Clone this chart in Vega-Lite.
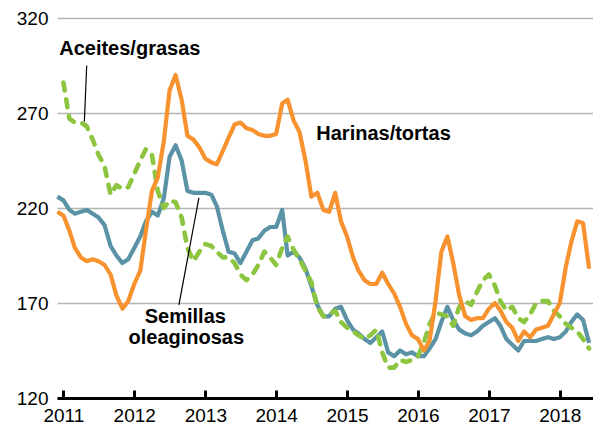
{
  "$schema": "https://vega.github.io/schema/vega-lite/v6.json",
  "width": 536,
  "height": 380,
  "autosize": "none",
  "padding": {"left": 57, "top": 18, "right": 0, "bottom": 27},
  "background": "white",
  "config": {"view": {"stroke": null}, "font": "Liberation Sans"},
  "datasets": {
    "harinas": [
      {"fecha":"2010-12-01","valor":218},
      {"fecha":"2011-01-01","valor":216},{"fecha":"2011-02-01","valor":208},{"fecha":"2011-03-01","valor":199},{"fecha":"2011-04-01","valor":194},{"fecha":"2011-05-01","valor":192},{"fecha":"2011-06-01","valor":193},{"fecha":"2011-07-01","valor":192},{"fecha":"2011-08-01","valor":190},{"fecha":"2011-09-01","valor":185},{"fecha":"2011-10-01","valor":174},{"fecha":"2011-11-01","valor":167},{"fecha":"2011-12-01","valor":171},
      {"fecha":"2012-01-01","valor":180},{"fecha":"2012-02-01","valor":187},{"fecha":"2012-03-01","valor":208},{"fecha":"2012-04-01","valor":229},{"fecha":"2012-05-01","valor":236},{"fecha":"2012-06-01","valor":255},{"fecha":"2012-07-01","valor":282},{"fecha":"2012-08-01","valor":290},{"fecha":"2012-09-01","valor":277},{"fecha":"2012-10-01","valor":258},{"fecha":"2012-11-01","valor":256},{"fecha":"2012-12-01","valor":252},
      {"fecha":"2013-01-01","valor":246},{"fecha":"2013-02-01","valor":244},{"fecha":"2013-03-01","valor":243},{"fecha":"2013-04-01","valor":250},{"fecha":"2013-05-01","valor":257},{"fecha":"2013-06-01","valor":264},{"fecha":"2013-07-01","valor":265},{"fecha":"2013-08-01","valor":262},{"fecha":"2013-09-01","valor":261},{"fecha":"2013-10-01","valor":259},{"fecha":"2013-11-01","valor":258},{"fecha":"2013-12-01","valor":258},
      {"fecha":"2014-01-01","valor":259},{"fecha":"2014-02-01","valor":275},{"fecha":"2014-03-01","valor":277},{"fecha":"2014-04-01","valor":266},{"fecha":"2014-05-01","valor":260},{"fecha":"2014-06-01","valor":245},{"fecha":"2014-07-01","valor":226},{"fecha":"2014-08-01","valor":228},{"fecha":"2014-09-01","valor":219},{"fecha":"2014-10-01","valor":218},{"fecha":"2014-11-01","valor":228},{"fecha":"2014-12-01","valor":213},
      {"fecha":"2015-01-01","valor":205},{"fecha":"2015-02-01","valor":194},{"fecha":"2015-03-01","valor":187},{"fecha":"2015-04-01","valor":182},{"fecha":"2015-05-01","valor":180},{"fecha":"2015-06-01","valor":180},{"fecha":"2015-07-01","valor":186},{"fecha":"2015-08-01","valor":180},{"fecha":"2015-09-01","valor":175},{"fecha":"2015-10-01","valor":168},{"fecha":"2015-11-01","valor":159},{"fecha":"2015-12-01","valor":153},
      {"fecha":"2016-01-01","valor":151},{"fecha":"2016-02-01","valor":145},{"fecha":"2016-03-01","valor":150},{"fecha":"2016-04-01","valor":171},{"fecha":"2016-05-01","valor":197},{"fecha":"2016-06-01","valor":205},{"fecha":"2016-07-01","valor":191},{"fecha":"2016-08-01","valor":174},{"fecha":"2016-09-01","valor":163},{"fecha":"2016-10-01","valor":161},{"fecha":"2016-11-01","valor":162},{"fecha":"2016-12-01","valor":162},
      {"fecha":"2017-01-01","valor":167},{"fecha":"2017-02-01","valor":170},{"fecha":"2017-03-01","valor":166},{"fecha":"2017-04-01","valor":160},{"fecha":"2017-05-01","valor":157},{"fecha":"2017-06-01","valor":150},{"fecha":"2017-07-01","valor":155},{"fecha":"2017-08-01","valor":152},{"fecha":"2017-09-01","valor":156},{"fecha":"2017-10-01","valor":157},{"fecha":"2017-11-01","valor":158},{"fecha":"2017-12-01","valor":164},
      {"fecha":"2018-01-01","valor":170},{"fecha":"2018-02-01","valor":189},{"fecha":"2018-03-01","valor":202},{"fecha":"2018-04-01","valor":213},{"fecha":"2018-05-01","valor":212},{"fecha":"2018-06-01","valor":188}
    ],
    "semillas": [
      {"fecha":"2010-12-01","valor":226},
      {"fecha":"2011-01-01","valor":224},{"fecha":"2011-02-01","valor":219},{"fecha":"2011-03-01","valor":217},{"fecha":"2011-04-01","valor":218},{"fecha":"2011-05-01","valor":219},{"fecha":"2011-06-01","valor":217},{"fecha":"2011-07-01","valor":215},{"fecha":"2011-08-01","valor":211},{"fecha":"2011-09-01","valor":200},{"fecha":"2011-10-01","valor":195},{"fecha":"2011-11-01","valor":191},{"fecha":"2011-12-01","valor":193},
      {"fecha":"2012-01-01","valor":199},{"fecha":"2012-02-01","valor":205},{"fecha":"2012-03-01","valor":213},{"fecha":"2012-04-01","valor":218},{"fecha":"2012-05-01","valor":216},{"fecha":"2012-06-01","valor":225},{"fecha":"2012-07-01","valor":247},{"fecha":"2012-08-01","valor":253},{"fecha":"2012-09-01","valor":245},{"fecha":"2012-10-01","valor":229},{"fecha":"2012-11-01","valor":228},{"fecha":"2012-12-01","valor":228},
      {"fecha":"2013-01-01","valor":228},{"fecha":"2013-02-01","valor":227},{"fecha":"2013-03-01","valor":221},{"fecha":"2013-04-01","valor":208},{"fecha":"2013-05-01","valor":197},{"fecha":"2013-06-01","valor":196},{"fecha":"2013-07-01","valor":191},{"fecha":"2013-08-01","valor":197},{"fecha":"2013-09-01","valor":203},{"fecha":"2013-10-01","valor":204},{"fecha":"2013-11-01","valor":208},{"fecha":"2013-12-01","valor":210},
      {"fecha":"2014-01-01","valor":210},{"fecha":"2014-02-01","valor":219},{"fecha":"2014-03-01","valor":195},{"fecha":"2014-04-01","valor":197},{"fecha":"2014-05-01","valor":194},{"fecha":"2014-06-01","valor":188},{"fecha":"2014-07-01","valor":179},{"fecha":"2014-08-01","valor":169},{"fecha":"2014-09-01","valor":163},{"fecha":"2014-10-01","valor":163},{"fecha":"2014-11-01","valor":167},{"fecha":"2014-12-01","valor":168},
      {"fecha":"2015-01-01","valor":161},{"fecha":"2015-02-01","valor":156},{"fecha":"2015-03-01","valor":154},{"fecha":"2015-04-01","valor":151},{"fecha":"2015-05-01","valor":149},{"fecha":"2015-06-01","valor":152},{"fecha":"2015-07-01","valor":155},{"fecha":"2015-08-01","valor":144},{"fecha":"2015-09-01","valor":142},{"fecha":"2015-10-01","valor":145},{"fecha":"2015-11-01","valor":143},{"fecha":"2015-12-01","valor":144},
      {"fecha":"2016-01-01","valor":142},{"fecha":"2016-02-01","valor":142},{"fecha":"2016-03-01","valor":146},{"fecha":"2016-04-01","valor":151},{"fecha":"2016-05-01","valor":160},{"fecha":"2016-06-01","valor":168},{"fecha":"2016-07-01","valor":161},{"fecha":"2016-08-01","valor":156},{"fecha":"2016-09-01","valor":154},{"fecha":"2016-10-01","valor":153},{"fecha":"2016-11-01","valor":155},{"fecha":"2016-12-01","valor":158},
      {"fecha":"2017-01-01","valor":160},{"fecha":"2017-02-01","valor":162},{"fecha":"2017-03-01","valor":158},{"fecha":"2017-04-01","valor":151},{"fecha":"2017-05-01","valor":148},{"fecha":"2017-06-01","valor":145},{"fecha":"2017-07-01","valor":150},{"fecha":"2017-08-01","valor":150},{"fecha":"2017-09-01","valor":150},{"fecha":"2017-10-01","valor":151},{"fecha":"2017-11-01","valor":152},{"fecha":"2017-12-01","valor":151},
      {"fecha":"2018-01-01","valor":152},{"fecha":"2018-02-01","valor":155},{"fecha":"2018-03-01","valor":160},{"fecha":"2018-04-01","valor":164},{"fecha":"2018-05-01","valor":161},{"fecha":"2018-06-01","valor":149}
    ],
    "aceites": [
      {"fecha":"2011-01-01","valor":286},{"fecha":"2011-02-01","valor":267},{"fecha":"2011-03-01","valor":265},{"fecha":"2011-04-01","valor":265},{"fecha":"2011-05-01","valor":263},{"fecha":"2011-06-01","valor":256},{"fecha":"2011-07-01","valor":248},{"fecha":"2011-08-01","valor":242},{"fecha":"2011-09-01","valor":227},{"fecha":"2011-10-01","valor":232},{"fecha":"2011-11-01","valor":230},{"fecha":"2011-12-01","valor":231},
      {"fecha":"2012-01-01","valor":238},{"fecha":"2012-02-01","valor":245},{"fecha":"2012-03-01","valor":251},{"fecha":"2012-04-01","valor":248},{"fecha":"2012-05-01","valor":229},{"fecha":"2012-06-01","valor":220},{"fecha":"2012-07-01","valor":224},{"fecha":"2012-08-01","valor":223},{"fecha":"2012-09-01","valor":215},{"fecha":"2012-10-01","valor":199},{"fecha":"2012-11-01","valor":192},{"fecha":"2012-12-01","valor":197},
      {"fecha":"2013-01-01","valor":201},{"fecha":"2013-02-01","valor":200},{"fecha":"2013-03-01","valor":197},{"fecha":"2013-04-01","valor":194},{"fecha":"2013-05-01","valor":194},{"fecha":"2013-06-01","valor":191},{"fecha":"2013-07-01","valor":185},{"fecha":"2013-08-01","valor":182},{"fecha":"2013-09-01","valor":185},{"fecha":"2013-10-01","valor":190},{"fecha":"2013-11-01","valor":197},{"fecha":"2013-12-01","valor":194},
      {"fecha":"2014-01-01","valor":190},{"fecha":"2014-02-01","valor":199},{"fecha":"2014-03-01","valor":205},{"fecha":"2014-04-01","valor":198},{"fecha":"2014-05-01","valor":193},{"fecha":"2014-06-01","valor":187},{"fecha":"2014-07-01","valor":181},{"fecha":"2014-08-01","valor":168},{"fecha":"2014-09-01","valor":163},{"fecha":"2014-10-01","valor":164},{"fecha":"2014-11-01","valor":166},{"fecha":"2014-12-01","valor":160},
      {"fecha":"2015-01-01","valor":157},{"fecha":"2015-02-01","valor":155},{"fecha":"2015-03-01","valor":153},{"fecha":"2015-04-01","valor":151},{"fecha":"2015-05-01","valor":153},{"fecha":"2015-06-01","valor":156},{"fecha":"2015-07-01","valor":144},{"fecha":"2015-08-01","valor":136},{"fecha":"2015-09-01","valor":136},{"fecha":"2015-10-01","valor":140},{"fecha":"2015-11-01","valor":139},{"fecha":"2015-12-01","valor":140},
      {"fecha":"2016-01-01","valor":142},{"fecha":"2016-02-01","valor":149},{"fecha":"2016-03-01","valor":159},{"fecha":"2016-04-01","valor":165},{"fecha":"2016-05-01","valor":164},{"fecha":"2016-06-01","valor":163},{"fecha":"2016-07-01","valor":158},{"fecha":"2016-08-01","valor":168},{"fecha":"2016-09-01","valor":171},{"fecha":"2016-10-01","valor":169},{"fecha":"2016-11-01","valor":176},{"fecha":"2016-12-01","valor":182},
      {"fecha":"2017-01-01","valor":185},{"fecha":"2017-02-01","valor":179},{"fecha":"2017-03-01","valor":171},{"fecha":"2017-04-01","valor":166},{"fecha":"2017-05-01","valor":168},{"fecha":"2017-06-01","valor":162},{"fecha":"2017-07-01","valor":160},{"fecha":"2017-08-01","valor":164},{"fecha":"2017-09-01","valor":170},{"fecha":"2017-10-01","valor":171},{"fecha":"2017-11-01","valor":171},{"fecha":"2017-12-01","valor":166},
      {"fecha":"2018-01-01","valor":163},{"fecha":"2018-02-01","valor":159},{"fecha":"2018-03-01","valor":157},{"fecha":"2018-04-01","valor":155},{"fecha":"2018-05-01","valor":151},{"fecha":"2018-06-01","valor":146}
    ],
    "guias": [
      {"fecha":"2011-05-01","valor":295,"fecha2":"2011-04-19","valor2":265.5},
      {"fecha":"2012-08-18","valor":169,"fecha2":"2012-11-29","valor2":225.3}
    ],
    "etiquetas": [
      {"fecha":"2011-12-09","valor":303.5,"texto":"Aceites/grasas"},
      {"fecha":"2015-07-08","valor":259,"texto":"Harinas/tortas"},
      {"fecha":"2012-09-20","valor":162.6,"texto":"Semillas"},
      {"fecha":"2012-09-25","valor":151.4,"texto":"oleaginosas"}
    ]
  },
  "encoding": {
    "x": {
      "field": "fecha",
      "type": "temporal",
      "scale": {"type": "utc", "domain": [{"year": 2010, "month": 11, "date": 29, "utc": true}, {"year": 2018, "month": 6, "date": 21, "utc": true}]},
      "axis": {
        "title": null,
        "values": [
          {"year": 2011, "month": 1, "date": 1, "utc": true},
          {"year": 2012, "month": 1, "date": 1, "utc": true},
          {"year": 2013, "month": 1, "date": 1, "utc": true},
          {"year": 2014, "month": 1, "date": 1, "utc": true},
          {"year": 2015, "month": 1, "date": 1, "utc": true},
          {"year": 2016, "month": 1, "date": 1, "utc": true},
          {"year": 2017, "month": 1, "date": 1, "utc": true},
          {"year": 2018, "month": 1, "date": 1, "utc": true}
        ],
        "format": "%Y",
        "grid": false,
        "domainColor": "#000000",
        "domainWidth": 3,
        "tickColor": "#000000",
        "tickWidth": 3,
        "tickSize": -8,
        "labelPadding": 16,
        "labelFont": "Liberation Sans",
        "labelFontSize": 19,
        "labelColor": "#000000",
        "labelFlush": false,
        "labelOverlap": false,
        "zindex": 1
      }
    },
    "y": {
      "field": "valor",
      "type": "quantitative",
      "scale": {"domain": [120, 320], "nice": false, "zero": false},
      "axis": {
        "title": null,
        "values": [120, 170, 220, 270, 320],
        "domain": false,
        "ticks": false,
        "grid": true,
        "gridColor": "#b5b5b5",
        "gridWidth": 1.5,
        "labelFont": "Liberation Sans",
        "labelFontSize": 19,
        "labelColor": "#000000",
        "labelPadding": 9
      }
    }
  },
  "layer": [
    {
      "data": {"name": "semillas"},
      "mark": {"type": "line", "color": "#5a93a6", "strokeWidth": 4.2, "strokeJoin": "round"}
    },
    {
      "data": {"name": "aceites"},
      "mark": {"type": "line", "color": "#8dc540", "strokeWidth": 4.6, "strokeDash": [8, 9], "strokeCap": "round", "strokeJoin": "round"}
    },
    {
      "data": {"name": "harinas"},
      "mark": {"type": "line", "color": "#f7922f", "strokeWidth": 4.2, "strokeJoin": "round"}
    },
    {
      "data": {"name": "guias"},
      "mark": {"type": "rule", "color": "#000000", "strokeWidth": 1.2},
      "encoding": {
        "x2": {"field": "fecha2"},
        "y2": {"field": "valor2"}
      }
    },
    {
      "data": {"name": "etiquetas"},
      "mark": {"type": "text", "font": "Liberation Sans", "fontSize": 20, "fontWeight": "bold", "align": "center", "baseline": "middle", "color": "#000000"},
      "encoding": {"text": {"field": "texto"}}
    }
  ]
}
